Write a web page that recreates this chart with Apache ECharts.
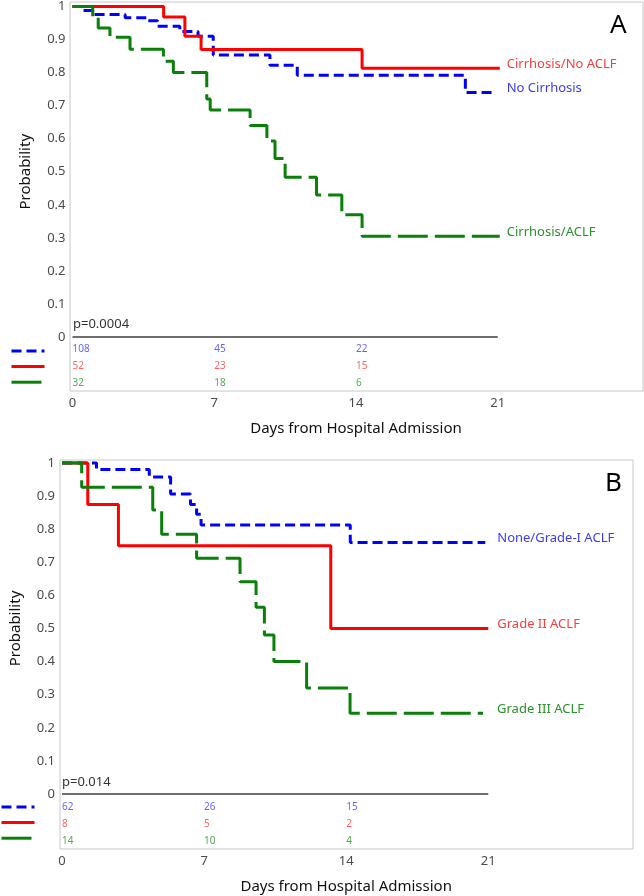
<!DOCTYPE html>
<html>
<head>
<meta charset="utf-8">
<script src="https://cdn.jsdelivr.net/npm/echarts@6/dist/echarts.min.js"></script>
<style>html,body{margin:0;padding:0;background:#fff}#c{width:644px;height:896px}</style>
</head>
<body>
<div id="c"></div>
<script>
// ---------- data ----------
const dayTicks = [0, 7, 14, 21];
const riskDays = [0, 7, 14];

// Panel A
const namesA = ['No Cirrhosis', 'Cirrhosis/No ACLF', 'Cirrhosis/ACLF'];
const daysA_noCirr = [0, 0.5, 1.0, 2.6, 3.7, 4.2, 5.3, 6.2, 6.95, 9.75, 11.1, 19.4, 20.8];
const survA_noCirr = [1, 0.988, 0.976, 0.966, 0.957, 0.94, 0.924, 0.91, 0.853, 0.822, 0.792, 0.74, 0.74];
const daysA_cirrNoACLF = [0, 4.5, 5.55, 6.35, 14.3, 21.1];
const survA_cirrNoACLF = [1, 0.968, 0.91, 0.87, 0.813, 0.813];
const daysA_cirrACLF = [0, 1.0, 1.27, 1.85, 2.84, 4.49, 4.98, 6.63, 6.8, 8.77, 9.6, 10.0, 10.5, 12.05, 13.3, 14.3, 21.1];
const survA_cirrACLF = [1, 0.97, 0.935, 0.907, 0.871, 0.834, 0.8, 0.72, 0.687, 0.64, 0.593, 0.54, 0.483, 0.43, 0.37, 0.305, 0.305];
const riskA_noCirr = [108, 45, 22];
const riskA_cirrNoACLF = [52, 23, 15];
const riskA_cirrACLF = [32, 18, 6];
const pValueA = 'p=0.0004';

// Panel B
const namesB = ['None/Grade-I ACLF', 'Grade II ACLF', 'Grade III ACLF'];
const daysB_grade0_1 = [0, 1.7, 4.3, 5.35, 6.33, 6.63, 6.85, 14.2, 20.85];
const survB_grade0_1 = [1, 0.98, 0.958, 0.906, 0.875, 0.845, 0.813, 0.76, 0.76];
const daysB_grade2 = [0, 1.27, 2.78, 13.24, 21.0];
const survB_grade2 = [1, 0.875, 0.75, 0.5, 0.5];
const daysB_grade3 = [0, 0.97, 4.47, 4.91, 6.63, 8.77, 9.56, 9.97, 10.44, 12.05, 14.19, 20.74];
const survB_grade3 = [1, 0.927, 0.858, 0.785, 0.712, 0.641, 0.564, 0.48, 0.4, 0.32, 0.244, 0.244];
const riskB_grade0_1 = [62, 26, 15];
const riskB_grade2 = [8, 5, 2];
const riskB_grade3 = [14, 10, 4];
const pValueB = 'p=0.014';

// ---------- styles ----------
const FONT = 'Noto Sans';
const BLUE = '#0000ff', RED = '#ff0000', GREEN = '#0a800a';
const BLUE_T = '#3b3bff', RED_T = '#ff3b3b', GREEN_T = '#2a922a';
const DASH_BLUE = [10, 5], DASH_GREEN = [30, 7];

const chart = echarts.init(document.getElementById('c'), null, {renderer: 'canvas'});

function km(name, days, surv, color, tcolor, dash, idx, dist) {
  return {
    type: 'line', name, xAxisIndex: idx, yAxisIndex: idx, step: 'end',
    symbol: 'none', showSymbol: false, clip: false, silent: true,
    data: days.map((d, i) => [d, surv[i]]),
    lineStyle: {color, width: 3, type: dash || 'solid'},
    itemStyle: {color},
    endLabel: {show: true, formatter: p => p.seriesName, color: tcolor, fontSize: 13,
      fontFamily: FONT, distance: dist, offset: [0, -4]},
    emphasis: {disabled: true}
  };
}
function risk(rowName, counts, tcolor, idx) {
  return {
    type: 'scatter', xAxisIndex: idx, yAxisIndex: idx, symbolSize: 0, silent: true,
    data: riskDays.map((d, i) => [d, rowName, counts[i]]),
    label: {show: true, position: 'right', distance: 0, formatter: p => String(p.data[2]),
      color: tcolor, fontSize: 10, fontFamily: FONT}
  };
}
function zeroLine(idx) {
  return {type: 'line', xAxisIndex: idx, yAxisIndex: idx, symbol: 'none', clip: false, silent: true,
    data: [[dayTicks[0], 0], [dayTicks[dayTicks.length - 1], 0]],
    lineStyle: {color: '#6e6e6e', width: 2}};
}

const frameGrid = (l, t) => ({left: l, top: t, width: 573, height: 389, show: true,
  borderColor: '#c8c8c8', borderWidth: 1, backgroundColor: 'transparent'});
const hiddenX = i => ({type: 'value', gridIndex: i, show: false, min: 0, max: 1});
const hiddenY = i => ({type: 'value', gridIndex: i, show: false, min: 0, max: 1});
const mainX = i => ({type: 'value', gridIndex: i, show: false, min: 0, max: 28});
const mainY = i => ({type: 'value', gridIndex: i, min: 0, max: 1, interval: 0.1,
  axisLine: {show: false}, axisTick: {show: false}, splitLine: {show: false},
  axisLabel: {formatter: v => String(parseFloat(v.toFixed(1))), color: '#4a4a4a', fontSize: 13,
    fontFamily: FONT, margin: 7},
  name: 'Probability', nameLocation: 'middle', nameGap: 39,
  nameTextStyle: {fontSize: 15, color: '#111', fontFamily: FONT}});
const riskX = i => ({type: 'value', gridIndex: i, min: 0, max: 28, interval: 7,
  axisLine: {show: false}, axisTick: {show: false}, splitLine: {show: false},
  axisLabel: {formatter: v => (dayTicks.indexOf(v) >= 0 ? String(v) : ''), color: '#4a4a4a',
    fontSize: 13, fontFamily: FONT, margin: 5},
  name: 'Days from Hospital Admission', nameLocation: 'middle', nameGap: 30,
  nameTextStyle: {fontSize: 15, color: '#111', fontFamily: FONT}});
const riskY = (i, names) => ({type: 'category', gridIndex: i, data: names, inverse: true, show: false});

const legendBase = {orient: 'vertical', itemWidth: 33, itemHeight: 14, itemGap: 3,
  padding: 0, formatter: () => '', selectedMode: false, textStyle: {fontSize: 1},
  itemStyle: {color: 'transparent', borderWidth: 0, opacity: 0},
  lineStyle: {width: 3}};

const option = {
  animation: false,
  backgroundColor: '#fff',
  title: [
    {text: 'A', left: 610, top: 13, padding: 0, textStyle: {fontSize: 26, fontWeight: 'normal', color: '#000', fontFamily: FONT}},
    {text: pValueA, left: 73, top: 318, padding: 0, textStyle: {fontSize: 13, fontWeight: 'normal', color: '#333', fontFamily: FONT}},
    {text: 'B', left: 605, top: 471, padding: 0, textStyle: {fontSize: 26, fontWeight: 'normal', color: '#000', fontFamily: FONT}},
    {text: pValueB, left: 62, top: 776, padding: 0, textStyle: {fontSize: 13, fontWeight: 'normal', color: '#333', fontFamily: FONT}}
  ],
  legend: [
    Object.assign({}, legendBase, {data: namesA, left: 10, top: 344}),
    Object.assign({}, legendBase, {data: namesB, left: 0, top: 800})
  ],
  grid: [
    frameGrid(70, 2),
    {left: 72.5, top: 5, width: 567, height: 332},
    {left: 72.5, top: 340.5, width: 567, height: 51},
    frameGrid(60, 460),
    {left: 62, top: 463, width: 568.4, height: 331},
    {left: 62, top: 798.5, width: 568.4, height: 51}
  ],
  xAxis: [hiddenX(0), mainX(1), riskX(2), hiddenX(3), mainX(4), riskX(5)],
  yAxis: [hiddenY(0), mainY(1), riskY(2, namesA), hiddenY(3), mainY(4), riskY(5, namesB)],
  series: [
    zeroLine(1),
    km(namesA[0], daysA_noCirr, survA_noCirr, BLUE, BLUE_T, DASH_BLUE, 1, 13),
    km(namesA[1], daysA_cirrNoACLF, survA_cirrNoACLF, RED, RED_T, null, 1, 7),
    km(namesA[2], daysA_cirrACLF, survA_cirrACLF, GREEN, GREEN_T, DASH_GREEN, 1, 7),
    risk(namesA[0], riskA_noCirr, BLUE_T, 2),
    risk(namesA[1], riskA_cirrNoACLF, RED_T, 2),
    risk(namesA[2], riskA_cirrACLF, GREEN_T, 2),
    zeroLine(4),
    km(namesB[0], daysB_grade0_1, survB_grade0_1, BLUE, BLUE_T, DASH_BLUE, 4, 12),
    km(namesB[1], daysB_grade2, survB_grade2, RED, RED_T, null, 4, 9),
    km(namesB[2], daysB_grade3, survB_grade3, GREEN, GREEN_T, DASH_GREEN, 4, 14),
    risk(namesB[0], riskB_grade0_1, BLUE_T, 5),
    risk(namesB[1], riskB_grade2, RED_T, 5),
    risk(namesB[2], riskB_grade3, GREEN_T, 5)
  ]
};
chart.setOption(option);
</script>
</body>
</html>
